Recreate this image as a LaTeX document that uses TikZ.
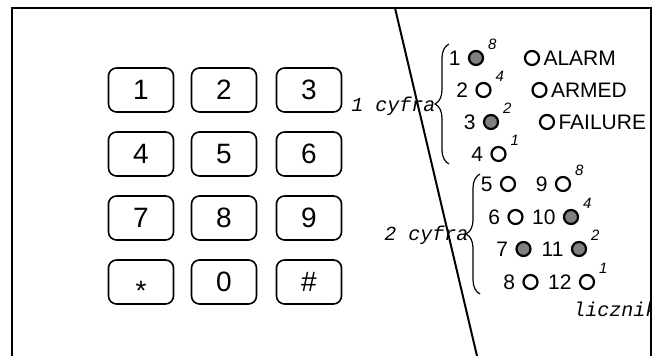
\documentclass[tikz,border=0pt]{standalone}
\usepackage{fontspec}
\setmainfont{Liberation Sans}
\setmonofont{Liberation Mono}
\usetikzlibrary{positioning, decorations.pathreplacing}

\begin{document}
\begin{tikzpicture}[x=0.5pt, y=-0.5pt,
    key/.style={draw, line width=0.8pt, rounded corners=4pt, minimum width=32.5pt, minimum height=22pt,
        text height=10pt, text depth=0pt, font=\fontsize{14}{14}\selectfont},
    led/.style={circle, draw, line width=1.1pt, minimum size=7pt, inner sep=0pt},
    ledon/.style={fill=black!50},
    ledoff/.style={fill=white},
    num/.style={inner sep=0pt, font=\fontsize{10.5}{10.5}\selectfont},
    wt/.style={inner sep=0pt, anchor=south west, font=\fontsize{7.5}{7.5}\selectfont\itshape},
    status/.style={inner sep=0pt, font=\fontsize{10.5}{10.5}\selectfont},
    note/.style={inner sep=0pt, anchor=base west, font=\fontsize{10}{10}\selectfont\ttfamily\itshape}]
    \useasboundingbox (0,0) rectangle (664,356);

    \coordinate (frameBL) at (12,356);
    \coordinate (frameTL) at (12,8);
    \coordinate (frameTR) at (651,8);
    \coordinate (frameBR) at (651,356);
    \coordinate (cutTop) at (395,8);
    \coordinate (cutBot) at (477,356);

    % panel outline (open at the bottom) and the cut line
    \draw[line width=1.2pt] (frameBL) -- (frameTL) -- (frameTR) -- (frameBR);
    \draw[line width=1pt] (cutTop) -- (cutBot);

    % keypad
    \foreach \lab/\x/\y [count=\i] in {1/141/90, 2/224/90, 3/309/90,
                                       4/141/154, 5/224/154, 6/309/154,
                                       7/141/218, 8/224/218, 9/309/218,
                                       {\raisebox{-4.5pt}{*}}/141/282, 0/224/282, \#/309/282}{
        \node[key] (key\i) at (\x,\y) {\lab};
    }

    % first digit leds
    \foreach \n/\x/\y/\st in {1/476/58/ledon, 2/483.5/90/ledoff, 3/491/122/ledon, 4/498.5/154/ledoff,
                              5/508/184/ledoff, 6/515.5/217/ledoff, 7/523.5/249/ledon, 8/530.5/282/ledoff,
                              9/563/184/ledoff, 10/571/217/ledon, 11/579/249/ledon, 12/587/282/ledoff}{
        \node[led, \st] (led\n) at (\x,\y) {};
        \node[num, left=3.5pt of led\n] (num\n) {\n};
    }

    % weights
    \foreach \n/\w in {1/8, 2/4, 3/2, 4/1, 9/8, 10/4, 11/2, 12/1}{
        \node[wt] (wt\n) at ([shift={(3pt,1pt)}]led\n.north east) {\w};
    }

    % status leds
    \foreach \name/\x/\y in {ALARM/532/58, ARMED/539.5/90, FAILURE/547/122}{
        \node[led] (led\name) at (\x,\y) {};
        \node[status, right=1.5pt of led\name] (txt\name) {\name};
    }

    % braces and notes
    \coordinate (braceOneTop) at (449,44);
    \coordinate (braceOneBot) at (449,164);
    \coordinate (braceTwoTop) at (480,174);
    \coordinate (braceTwoBot) at (480,294);
    \draw[line width=0.6pt, decorate, decoration={brace, amplitude=7pt}] (braceOneBot) -- (braceOneTop);
    \draw[line width=0.6pt, decorate, decoration={brace, amplitude=7pt}] (braceTwoBot) -- (braceTwoTop);

    \node[note] (cyfraOne) at (351,112) {1 cyfra};
    \node[note] (cyfraTwo) at (384,241) {2 cyfra};
    \begin{scope}
        \clip (frameTL) rectangle (frameBR);
        \node[note] (licznik) at (573,317) {licznik};
    \end{scope}
\end{tikzpicture}
\end{document}
